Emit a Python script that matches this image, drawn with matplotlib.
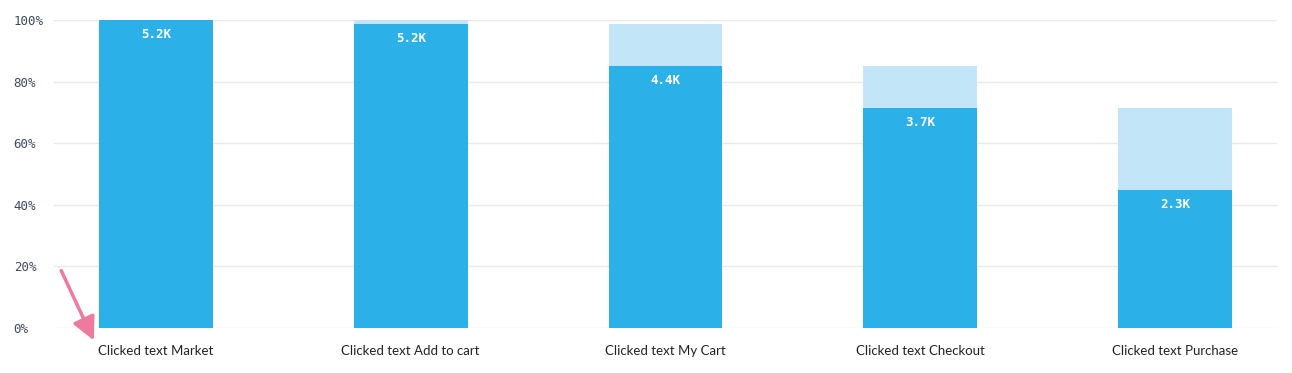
import numpy as np
import matplotlib.pyplot as plt

steps = ["Clicked text Market", "Clicked text Add to cart", "Clicked text My Cart",
         "Clicked text Checkout", "Clicked text Purchase"]
converted_pct = [100.0, 98.7, 85.1, 71.4, 44.8]
previous_pct = [100.0, 100.0, 98.7, 85.1, 71.4]
count_labels = ["5.2K", "5.2K", "4.4K", "3.7K", "2.3K"]
yticks = [0, 20, 40, 60, 80, 100]

dark = "#2cb0e8"
light = "#c2e6f7"

fig = plt.figure(figsize=(12.92, 3.73), dpi=100)
ax = fig.add_axes([54 / 1292, 45 / 373, 1223 / 1292, 308 / 373])

x = np.arange(len(steps))
w = 0.447
ax.bar(x, previous_pct, width=w, color=light, zorder=2)
ax.bar(x, converted_pct, width=w, color=dark, zorder=3)

for xi, v, lab in zip(x, converted_pct, count_labels):
    ax.annotate(lab, (xi, v), xytext=(0, -5.5), textcoords="offset points",
                ha="center", va="top", color="white", fontsize=9,
                fontweight="bold", family="DejaVu Sans Mono", zorder=4)

ax.set_xlim(-0.4, 4.4)
ax.set_ylim(0, 100)
ax.set_yticks(yticks)
ax.set_yticklabels([f"{t}%" for t in yticks], family="DejaVu Sans Mono",
                   fontsize=9, color="#3d4a5c")
for t in ax.get_yticklabels():
    t.set_horizontalalignment("left")
ax.tick_params(axis="y", length=0, pad=29)
ax.set_xticks(x)
ax.set_xticklabels(steps, family="Lato", fontsize=9.5, color="#222222")
ax.tick_params(axis="x", length=0, pad=12)

ax.grid(axis="y", color="#e8e9ec", linewidth=1, zorder=0)
for s in ax.spines.values():
    s.set_visible(False)

# pink pointer arrow in the corner
ax.annotate("", xy=(95, 30), xycoords="figure pixels",
            xytext=(60, 105), textcoords="figure pixels",
            arrowprops=dict(arrowstyle="-|>,head_length=1.4,head_width=0.7",
                            color="#ef7aa0", lw=2.5), annotation_clip=False)

fig.savefig("out.png", dpi=100)
